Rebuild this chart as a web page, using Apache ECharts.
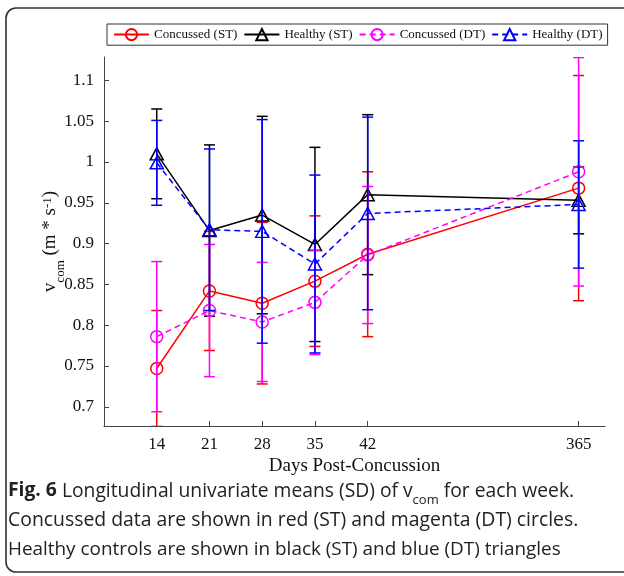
<!DOCTYPE html>
<html>
<head>
<meta charset="utf-8">
<script src="https://cdn.jsdelivr.net/npm/echarts@6/dist/echarts.min.js"></script>
<style>
html,body{margin:0;padding:0;background:#fff;}
#c{width:624px;height:576px;}
</style>
</head>
<body>
<div id="c"></div>
<script>
// ---- data ----
const dayLabels = ['14', '21', '28', '35', '42', '365'];
const dayPos = [1, 2, 3, 4, 5, 9];           // plotted position of each visit on the x axis
const concussedST = [0.747, 0.842, 0.827, 0.854, 0.887, 0.968];
const concussedST_sd = [0.071, 0.073, 0.099, 0.080, 0.101, 0.138];
const healthyST = [1.010, 0.916, 0.935, 0.899, 0.960, 0.953];
const healthyST_sd = [0.055, 0.105, 0.121, 0.119, 0.098, 0.041];
const concussedDT = [0.786, 0.818, 0.804, 0.828, 0.886, 0.988];
const concussedDT_sd = [0.092, 0.081, 0.073, 0.064, 0.084, 0.140];
const healthyDT = [0.999, 0.917, 0.915, 0.875, 0.937, 0.948];
const healthyDT_sd = [0.052, 0.099, 0.137, 0.109, 0.118, 0.078];
const yTicks = [0.7, 0.75, 0.8, 0.85, 0.9, 0.95, 1, 1.05, 1.1];
const yMin = 0.6765, yMax = 1.1287;
const xMin = 0, xMax = 9.5;

const groups = [
  {name: 'Concussed (ST)', mean: concussedST, sd: concussedST_sd, color: '#ff0000', symbol: 'circle', dash: 'solid'},
  {name: 'Healthy (ST)', mean: healthyST, sd: healthyST_sd, color: '#000000', symbol: 'triangle', dash: 'solid'},
  {name: 'Concussed (DT)', mean: concussedDT, sd: concussedDT_sd, color: '#ff00ff', symbol: 'circle', dash: [6, 4]},
  {name: 'Healthy (DT)', mean: healthyDT, sd: healthyDT_sd, color: '#0000ff', symbol: 'triangle', dash: [6, 4]}
];

const serif = 'Liberation Serif';
const sans = 'Open Sans';
const series = [];
groups.forEach(function (g, gi) {
  series.push({
    name: g.name + ' SD',
    type: 'custom',
    clip: true,
    z: 2 + gi * 2,
    silent: true,
    data: dayPos.map(function (p, i) { return [p, g.mean[i] - g.sd[i], g.mean[i] + g.sd[i]]; }),
    renderItem: function (params, api) {
      const lo = api.coord([api.value(0), api.value(1)]);
      const hi = api.coord([api.value(0), api.value(2)]);
      const hw = 5.5;
      const st = {stroke: g.color, lineWidth: 1.5, fill: null};
      return {
        type: 'group',
        children: [
          {type: 'line', shape: {x1: lo[0], y1: lo[1], x2: hi[0], y2: hi[1]}, style: st},
          {type: 'line', shape: {x1: lo[0] - hw, y1: lo[1], x2: lo[0] + hw, y2: lo[1]}, style: st},
          {type: 'line', shape: {x1: hi[0] - hw, y1: hi[1], x2: hi[0] + hw, y2: hi[1]}, style: st}
        ]
      };
    }
  });
  series.push({
    name: g.name,
    type: 'line',
    z: 3 + gi * 2,
    data: dayPos.map(function (p, i) { return [p, g.mean[i]]; }),
    symbol: g.symbol,
    symbolSize: g.symbol === 'circle' ? 12 : [13, 12],
    showAllSymbol: true,
    lineStyle: {color: g.color, width: 1.5, type: g.dash},
    itemStyle: {color: 'rgba(255,255,255,0)', borderColor: g.color, borderWidth: 1.5},
    emphasis: {disabled: true},
    animation: false
  });
});

const chart = echarts.init(document.getElementById('c'), null, {renderer: 'canvas'});
chart.setOption({
  animation: false,
  backgroundColor: '#ffffff',
  grid: {left: 104, right: 19, top: 57, bottom: 150, containLabel: false},
  legend: {
    data: groups.map(function (g) { return g.name; }),
    left: 107, top: 24,
    padding: [4, 5, 4, 6],
    itemGap: 6,
    itemWidth: 35, itemHeight: 14,
    borderColor: '#333', borderWidth: 1,
    backgroundColor: '#fff',
    selectedMode: false,
    textStyle: {fontFamily: serif, fontSize: 13, color: '#111'}
  },
  xAxis: {
    type: 'value', min: xMin, max: xMax,
    name: 'Days Post-Concussion', nameLocation: 'middle', nameGap: 31,
    nameMoveOverlap: false,
    nameTextStyle: {fontFamily: serif, fontSize: 19, color: '#111'},
    axisLine: {show: true, lineStyle: {color: '#444', width: 1}},
    axisTick: {show: true, inside: true, length: 5, customValues: dayPos, lineStyle: {color: '#444'}},
    axisLabel: {customValues: dayPos, margin: 10, fontFamily: serif, fontSize: 17, color: '#111',
      formatter: function (v) { const i = dayPos.indexOf(v); return i >= 0 ? dayLabels[i] : ''; }},
    splitLine: {show: false}
  },
  yAxis: {
    type: 'value', min: yMin, max: yMax,
    name: '{m|v}{sub|com}{m| (m * s}{sup|-1}{m|)}',
    nameLocation: 'middle', nameRotate: 90, nameGap: 42,
    nameMoveOverlap: false,
    nameTextStyle: {
      fontFamily: serif, fontSize: 19, color: '#111',
      rich: {
        m: {fontFamily: serif, fontSize: 19, color: '#111', lineHeight: 21, verticalAlign: 'top'},
        sub: {fontFamily: serif, fontSize: 13, color: '#111', lineHeight: 13, verticalAlign: 'top', padding: [13, 0, 0, 0]},
        sup: {fontFamily: serif, fontSize: 13, color: '#111', lineHeight: 13, verticalAlign: 'top'}
      }
    },
    axisLine: {show: true, lineStyle: {color: '#444', width: 1}},
    axisTick: {show: true, inside: true, length: 5, customValues: yTicks, lineStyle: {color: '#444'}},
    axisLabel: {customValues: yTicks, margin: 10, fontFamily: serif, fontSize: 17, color: '#111',
      formatter: function (v) { return String(Number(v.toFixed(2))); }},
    splitLine: {show: false}
  },
  graphic: [
    {type: 'rect', silent: true, z: -10,
      shape: {x: 6, y: 8, width: 660, height: 564, r: 10},
      style: {fill: null, stroke: '#333', lineWidth: 1.6}},
    {type: 'text', left: 8, top: 481, silent: true,
      style: {
        text: '{b|Fig. 6} Longitudinal univariate means (SD) of v{s|com} for each week.',
        font: '19.3px "Open Sans"', fill: '#222',
        rich: {
          b: {fontFamily: sans, fontWeight: 'bold', fontSize: 19.3, fill: '#222', lineHeight: 22, verticalAlign: 'top'},
          s: {fontFamily: sans, fontSize: 13, fill: '#222', lineHeight: 13, verticalAlign: 'top', padding: [13, 0, 0, 0]}
        }
      }},
    {type: 'text', left: 8, top: 511, silent: true,
      style: {text: 'Concussed data are shown in red (ST) and magenta (DT) circles.', font: '19.4px "Open Sans"', fill: '#222'}},
    {type: 'text', left: 8, top: 540, silent: true,
      style: {text: 'Healthy controls are shown in black (ST) and blue (DT) triangles', font: '18.9px "Open Sans"', fill: '#222'}}
  ],
  series: series
});
</script>
</body>
</html>
